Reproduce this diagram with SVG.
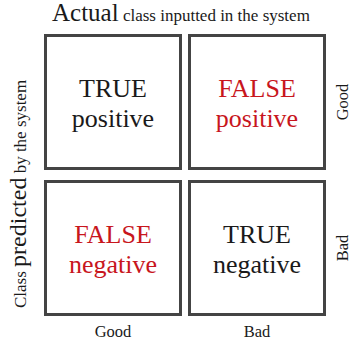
<svg xmlns="http://www.w3.org/2000/svg" width="350" height="340" viewBox="0 0 350 340">
  <style>
    text { font-family: "Liberation Serif", Tinos, "Times New Roman", Times, "DejaVu Serif", serif; fill: #1a1a1a; }
    .cell { fill: #ffffff; stroke: #444444; stroke-width: 3; }
    .big { font-size: 26px; text-anchor: middle; }
    .false { fill: #c8161d; }
    .axis { font-size: 16.5px; text-anchor: middle; }
  </style>
  <rect width="350" height="340" fill="#ffffff"/>

  <!-- header -->
  <text x="52" y="21"><tspan font-size="25">Actual</tspan><tspan font-size="17"> class inputted in the system</tspan></text>

  <!-- side caption -->
  <text transform="translate(26,308) rotate(-90)"><tspan font-size="17">Class </tspan><tspan font-size="24">predicted</tspan><tspan font-size="17"> by the system</tspan></text>

  <g id="true-positive">
    <rect class="cell" x="45.5" y="35.5" width="135" height="133"/>
    <text class="big" x="113" y="96.5">TRUE</text>
    <text class="big" x="113" y="126.5">positive</text>
  </g>
  <g id="false-positive">
    <rect class="cell" x="189.5" y="35.5" width="135" height="133"/>
    <text class="big false" x="257" y="96.5">FALSE</text>
    <text class="big false" x="257" y="126.5">positive</text>
  </g>
  <g id="false-negative">
    <rect class="cell" x="45.5" y="181.5" width="135" height="133"/>
    <text class="big false" x="113" y="242.5">FALSE</text>
    <text class="big false" x="113" y="272.5">negative</text>
  </g>
  <g id="true-negative">
    <rect class="cell" x="189.5" y="181.5" width="135" height="133"/>
    <text class="big" x="257" y="242.5">TRUE</text>
    <text class="big" x="257" y="272.5">negative</text>
  </g>

  <!-- column labels -->
  <text class="axis" x="113" y="336.5">Good</text>
  <text class="axis" x="257" y="336.5">Bad</text>

  <!-- row labels -->
  <text class="axis" transform="translate(347.5,102) rotate(-90)">Good</text>
  <text class="axis" transform="translate(347.5,248) rotate(-90)">Bad</text>

  <g id="connectors"></g>
</svg>
